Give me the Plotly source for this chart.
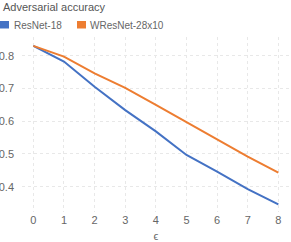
import plotly.graph_objects as go

epsilon = [0, 1, 2, 3, 4, 5, 6, 7, 8]
resnet18 = [0.830, 0.782, 0.705, 0.634, 0.569, 0.497, 0.446, 0.393, 0.346]
wresnet = [0.830, 0.797, 0.746, 0.702, 0.650, 0.597, 0.543, 0.492, 0.443]
series_names = ["ResNet-18", "WResNet-28x10"]
colors = ["#4472C4", "#ED7D31"]
y_ticks = [0.4, 0.5, 0.6, 0.7, 0.8]
x_ticks = [0, 1, 2, 3, 4, 5, 6, 7, 8]

font_family = "Liberation Sans, Arial, sans-serif"
W, H = 291, 242
ml, mr, mt, mb = 22, 1, 37, 30
pw = W - ml - mr
ph = H - mt - mb

fig = go.Figure()
for name, vals, c in zip(series_names, [resnet18, wresnet], colors):
    fig.add_trace(go.Scatter(x=epsilon, y=vals, mode="lines", name=name,
                             line=dict(color=c, width=2), showlegend=False))

def px_x(p):
    return (p - ml) / pw

def px_y(p):
    return 1 - (p - mt) / ph

# legend swatches and labels
legend_items = [(0, 9, 11.7), (77, 86, 87.5)]
shapes = []
annotations = []
for (x0, x1, tx), name, c in zip(legend_items, series_names, colors):
    shapes.append(dict(type="rect", xref="paper", yref="paper",
                       x0=px_x(x0), x1=px_x(x1), y0=px_y(28.5), y1=px_y(21),
                       fillcolor=c, line=dict(width=0)))
    annotations.append(dict(text=name, xref="paper", yref="paper",
                            x=px_x(tx), y=px_y(25), xanchor="left", yanchor="middle",
                            showarrow=False, font=dict(size=10, color="#666666", family=font_family)))

annotations.append(dict(text="Adversarial accuracy", xref="paper", yref="paper",
                        x=px_x(0.5), y=px_y(7), xanchor="left", yanchor="middle",
                        showarrow=False, font=dict(size=11, color="#555555", family=font_family)))

fig.update_layout(
    width=W, height=H,
    margin=dict(l=ml, r=mr, t=mt, b=mb, autoexpand=False),
    paper_bgcolor="white", plot_bgcolor="white",
    font=dict(family=font_family, size=11, color="#666666"),
    shapes=shapes, annotations=annotations,
    xaxis=dict(range=[-0.37, 8.38], tickvals=x_ticks, showgrid=True,
               gridcolor="#e8e8e8", griddash="dot", gridwidth=1,
               zeroline=False, showline=False, ticks="", automargin=False,
               tickfont=dict(size=11, color="#666666"),
               title=dict(text="ϵ", font=dict(size=11, color="#666666"), standoff=8)),
    yaxis=dict(range=[0.323, 0.857], tickvals=y_ticks, tickformat=".1f",
               showgrid=True, gridcolor="#e8e8e8", griddash="dot", gridwidth=1,
               zeroline=False, showline=False, ticks="", automargin=False,
               ticklabelstandoff=7,
               tickfont=dict(size=11, color="#666666")),
)

fig.write_html("out.html", config={"displayModeBar": False},
               post_script="document.body.style.margin='0';document.body.style.overflow='hidden';")
